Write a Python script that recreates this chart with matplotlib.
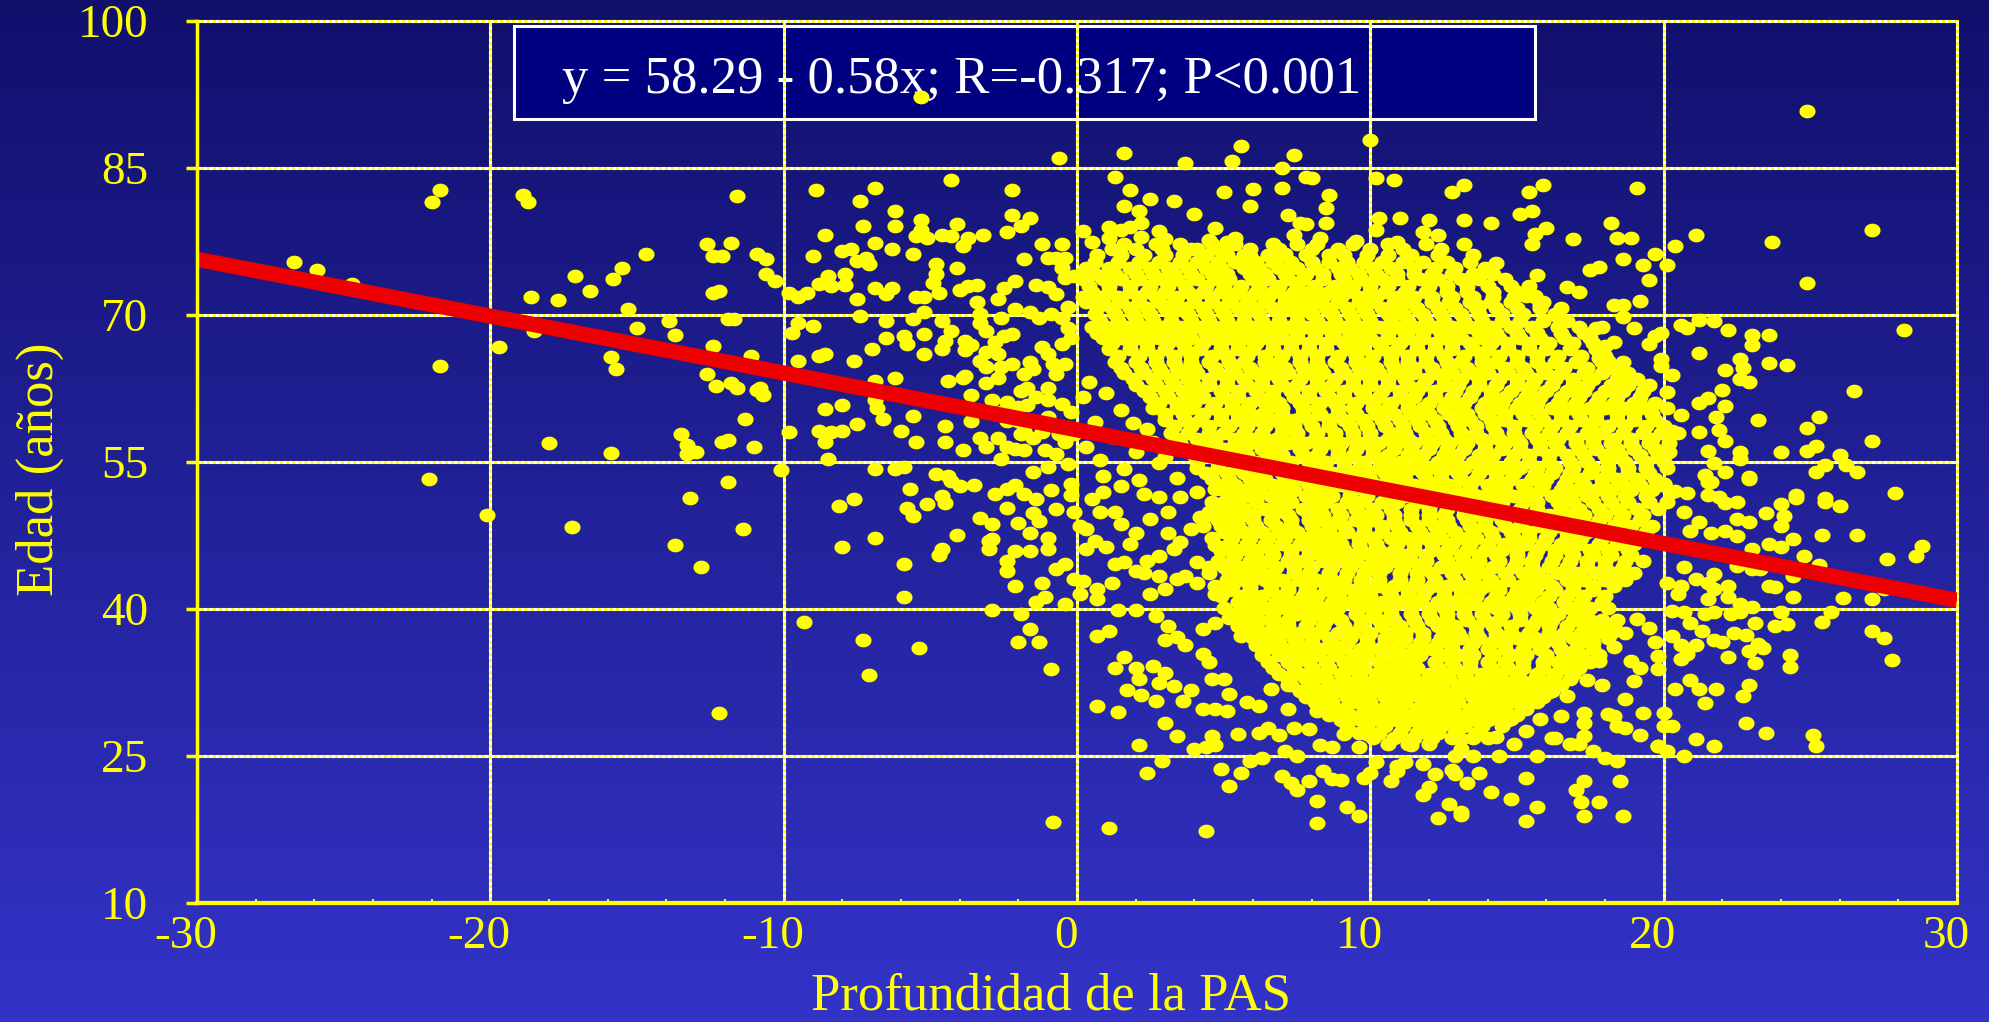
import numpy as np
import matplotlib
matplotlib.use('Agg')
import matplotlib.pyplot as plt
from matplotlib.path import Path
from matplotlib.patches import Rectangle
from matplotlib.ticker import MultipleLocator
from matplotlib.transforms import ScaledTranslation
from matplotlib.colors import LinearSegmentedColormap

plt.rcParams['font.family'] = ['Liberation Serif', 'DejaVu Serif']
plt.rcParams['axes.unicode_minus'] = False

# ---- ejes y recta ----
x_ticks = [-30, -20, -10, 0, 10, 20, 30]
y_ticks = [10, 25, 40, 55, 70, 85, 100]
intercepto = 58.29
pendiente = -0.58
texto_ecuacion = 'y = 58.29 - 0.58x; R=-0.317; P<0.001'
etiqueta_x = 'Profundidad de la PAS'
etiqueta_y = 'Edad (años)'

# ---- puntos, por zonas ----
puntos_izq = [
    (-26.7, 75.4), (-25.9, 74.6), (-24.7, 73.2), (-22.0, 81.5), (-21.7, 82.8), (-18.9, 82.3),
    (-18.7, 81.5), (-11.6, 82.1), (-17.1, 74.0), (-16.6, 72.5), (-15.8, 73.7), (-15.5, 74.8),
    (-14.7, 76.2), (-12.6, 77.2), (-11.8, 77.4), (-12.4, 76.0), (-12.1, 76.0), (-10.9, 76.2),
    (-12.4, 72.3), (-12.2, 72.5), (-18.6, 71.8), (-17.7, 71.5), (-15.3, 70.6), (-15.0, 68.7),
    (-13.9, 69.4), (-13.7, 68.0), (-11.9, 69.6), (-11.7, 69.6), (-18.5, 68.4), (-19.7, 66.7),
    (-15.9, 65.7), (-15.7, 64.5), (-12.4, 66.8), (-11.1, 65.8), (-12.6, 64.0), (-12.3, 62.8),
    (-11.8, 63.1), (-11.6, 62.6), (-10.9, 62.4), (-21.7, 64.8), (-11.3, 59.4), (-13.5, 57.9),
    (-13.3, 56.7), (-13.3, 55.8), (-13.0, 56.0), (-12.1, 57.0), (-11.9, 57.2), (-11.0, 56.5),
    (-18.0, 56.9), (-15.9, 55.9), (-22.1, 53.3), (-20.1, 49.6), (-17.2, 48.4), (-13.7, 46.5),
    (-12.8, 44.3), (-13.2, 51.3), (-11.9, 53.0), (-11.4, 48.2), (-12.2, 29.4), (-10.6, 75.7),
    (-10.6, 74.2), (-10.3, 73.5), (-10.8, 62.6), (-10.7, 61.8), (-10.1, 54.2),
]

puntos_medio = [
    (-9.3, 38.7), (-7.3, 36.8), (-5.4, 36.0), (-7.1, 33.3), (-5.9, 41.2), (-5.9, 44.6),
    (-8.0, 46.3), (-6.9, 47.3), (-8.1, 50.5), (-7.6, 51.2), (-5.7, 52.2), (-5.8, 50.3),
    (-5.6, 49.5), (-5.1, 50.7), (-4.6, 51.5), (-4.5, 50.8), (-4.3, 53.1), (-4.0, 52.6),
    (-3.5, 52.7), (-2.8, 51.7), (-3.3, 49.3), (-2.9, 48.7), (-4.1, 47.6), (-2.9, 47.1),
    (-3.0, 46.1), (-4.6, 46.1), (-4.7, 45.5), (-2.9, 39.9), (-2.0, 36.6), (-1.3, 36.6),
    (-1.6, 38.0), (-1.9, 39.5), (-0.9, 33.9), (-2.4, 50.3), (-2.0, 48.8), (-2.1, 52.7),
    (-2.4, 52.2), (-1.8, 51.7), (-1.4, 51.2), (-1.5, 49.8), (-1.3, 49.0), (-1.6, 47.8),
    (-1.0, 47.3), (-1.0, 46.1), (-2.1, 45.9), (-1.6, 45.9), (-3.0, 46.9), (-2.4, 44.9),
    (-2.4, 43.9), (-2.1, 42.4), (-1.2, 42.7), (-1.4, 40.7), (-1.1, 41.2), (-0.7, 44.1),
    (-0.4, 44.6), (-0.7, 50.2), (-0.9, 52.1), (-0.4, 40.5), (-0.1, 43.1), (-0.2, 51.6),
    (-0.1, 49.9), (-0.8, 18.3), (-5.3, 92.2),
    (-0.6, 86.0), (-4.3, 83.8), (-2.2, 82.8), (-8.9, 82.8), (-6.9, 83.0), (-7.4, 81.6),
    (-6.2, 80.6), (-6.2, 79.1), (-7.3, 79.1), (-8.6, 78.2), (-5.3, 79.7), (-5.3, 78.7),
    (-5.5, 78.1), (-5.1, 77.9), (-4.6, 78.2), (-4.3, 78.1), (-4.1, 79.3), (-3.7, 77.9),
    (-3.9, 77.0), (-3.2, 78.2), (-2.4, 78.5), (-2.2, 80.2), (-1.9, 79.1), (-1.6, 79.9),
    (-1.2, 77.2), (-0.5, 77.2), (-9.8, 72.3), (-9.5, 71.8), (-9.2, 72.3), (-9.0, 76.0),
    (-8.8, 73.2), (-8.5, 74.0), (-8.4, 73.0), (-8.0, 76.5), (-7.7, 76.7), (-7.9, 74.2),
    (-7.9, 73.1), (-7.5, 75.5), (-7.1, 75.2), (-7.2, 75.8), (-7.5, 71.6), (-7.4, 69.9),
    (-6.9, 77.4), (-6.9, 72.8), (-6.5, 72.1), (-6.3, 72.8), (-6.3, 76.7), (-5.6, 76.2),
    (-4.8, 75.2), (-4.8, 74.2), (-4.9, 73.3), (-4.7, 72.3), (-4.1, 74.8), (-4.0, 72.6),
    (-3.7, 73.0), (-3.4, 73.1), (-5.5, 71.8), (-5.2, 71.8), (-3.4, 71.3), (-3.3, 70.1),
    (-2.7, 71.6), (-2.5, 72.8), (-2.1, 73.5), (-1.8, 75.7), (-1.4, 73.1), (-1.0, 75.8),
    (-0.7, 75.8), (-0.4, 75.8), (-0.5, 74.8), (-1.0, 72.9), (-0.7, 72.1), (-0.4, 73.8),
    (-0.1, 74.0), (-0.3, 70.8), (-0.5, 69.7), (-0.9, 70.1), (-1.3, 69.7), (-1.6, 70.3),
    (-2.1, 70.6), (-2.6, 69.7), (-3.1, 68.4), (-3.3, 69.2), (-2.8, 67.2), (-2.5, 67.9),
    (-2.2, 68.1), (-3.1, 66.2), (-2.7, 66.0), (-3.6, 66.9), (-3.8, 67.4), (-3.8, 66.4),
    (-4.3, 68.4), (-4.6, 69.4), (-4.5, 67.4), (-4.6, 66.5), (-5.2, 70.3), (-5.2, 68.1),
    (-5.2, 66.0), (-5.9, 67.9), (-5.8, 67.0), (-5.6, 69.6), (-6.5, 69.4), (-6.5, 67.7),
    (-7.0, 66.5), (-7.6, 65.3), (-8.6, 66.0), (-8.8, 65.8), (-9.5, 65.3), (-9.7, 68.2),
    (-9.5, 69.2), (-9.0, 68.9), (-9.8, 58.1), (-8.6, 60.4), (-8.0, 60.8), (-6.9, 63.3),
    (-6.9, 61.3), (-6.8, 60.5), (-6.6, 59.4), (-7.5, 58.9), (-8.0, 58.2), (-8.8, 58.2),
    (-8.4, 58.1), (-8.6, 57.0), (-8.5, 55.3), (-6.9, 54.3), (-6.2, 54.3), (-5.9, 54.5),
    (-6.0, 58.2), (-5.6, 59.7), (-5.5, 57.0), (-4.5, 58.7), (-4.5, 57.0), (-3.9, 56.2),
    (-4.8, 53.8), (-4.4, 53.6), (-6.2, 63.6), (-4.4, 63.3), (-3.9, 63.6), (-3.6, 61.8),
    (-3.6, 59.2), (-3.3, 57.5), (-3.1, 56.5), (-2.7, 57.5), (-2.6, 55.3), (-2.4, 56.5),
    (-2.1, 56.3), (-1.9, 57.9), (-1.8, 56.2), (-1.5, 57.5), (-1.5, 54.0), (-1.2, 58.1),
    (-1.1, 56.2), (-1.0, 59.6), (-1.0, 54.5), (-0.7, 55.8), (-0.6, 57.9), (-0.4, 57.0),
    (-0.3, 54.8), (-0.2, 52.8), (-0.1, 57.9), (-0.2, 60.1), (-0.5, 60.9), (-0.7, 64.0),
    (-1.0, 62.6), (-1.0, 61.3), (-1.4, 61.6), (-1.7, 62.6), (-1.5, 64.5), (-1.6, 65.2),
    (-1.8, 64.0), (-1.2, 66.7), (-1.0, 66.0), (-0.8, 65.0), (-0.4, 65.0), (-0.5, 67.0),
    (-0.2, 67.7), (-0.3, 68.7), (-2.2, 65.0), (-2.6, 64.7), (-2.7, 63.6), (-3.1, 63.1),
    (-3.1, 64.7), (-3.3, 65.3), (-3.8, 63.8), (-2.9, 61.3), (-2.6, 60.1), (-2.4, 61.1),
    (-2.0, 60.6), (-1.9, 62.3), (-1.7, 60.8), (-2.0, 59.2), (-1.8, 58.2), (-2.4, 59.2),
]

puntos_arriba = [
    (1.6, 86.5), (3.7, 85.5), (5.3, 85.7), (5.6, 87.2), (7.4, 86.3), (7.0, 85.0), (7.8, 84.1),
    (1.3, 84.1), (1.8, 82.8), (1.6, 81.1), (2.1, 80.6), (3.3, 81.6), (4.0, 80.3), (5.0, 82.6),
    (5.9, 81.1), (7.0, 83.0), (7.2, 80.2), (4.7, 78.9), (1.1, 79.0), (1.1, 77.9), (1.5, 78.7),
    (1.8, 79.0), (2.2, 79.4), (2.2, 78.0), (2.8, 78.6), (3.0, 77.8), (4.1, 76.7), (4.5, 77.7),
    (5.1, 77.5), (5.4, 77.9), (5.9, 76.0), (7.1, 76.2), (7.4, 78.2), (7.6, 79.4), (0.2, 78.6),
    (0.5, 77.5), (10.0, 87.9), (8.0, 84.0), (8.6, 82.3), (8.5, 80.9), (8.5, 79.4), (7.8, 79.3),
    (10.2, 84.0), (10.8, 83.8), (12.8, 82.6), (13.2, 83.3), (15.4, 82.6), (15.9, 83.3),
    (19.1, 83.0), (10.3, 79.9), (11.0, 79.9), (10.2, 78.7), (12.0, 79.7), (11.8, 78.5),
    (12.3, 78.2), (13.2, 79.7), (14.1, 79.4), (15.1, 80.3), (15.5, 80.6), (15.6, 78.3),
    (16.0, 78.9), (16.9, 77.8), (18.2, 79.4), (18.4, 77.9), (18.9, 77.9), (18.6, 75.7),
    (19.3, 75.1), (19.7, 76.2), (19.5, 73.6), (19.2, 71.4), (10.9, 77.5), (9.5, 77.6),
    (8.3, 77.9), (15.5, 77.2), (14.3, 75.3), (15.7, 74.1), (15.4, 73.0), (15.3, 71.9),
    (15.6, 71.9), (16.7, 72.9), (17.1, 72.4), (17.5, 74.6), (17.8, 74.9), (18.3, 71.0),
    (18.6, 71.0), (18.6, 69.8), (19.0, 68.7), (19.7, 67.9), (19.5, 67.0), (19.9, 68.2),
    (19.9, 65.5), (19.9, 64.8), (17.7, 68.7), (17.9, 68.8), (18.3, 67.3), (18.0, 66.8),
    (17.8, 65.6), (18.1, 65.3), (18.4, 64.4), (13.7, 70.9), (16.3, 70.0), (15.8, 71.0),
    (6.0, 82.9), (2.5, 81.8), (0.3, 56.5), (0.8, 55.2), (1.2, 57.6), (1.6, 54.3), (2.0, 56.0),
    (2.4, 58.4), (2.8, 54.9), (0.6, 59.1), (1.5, 60.3), (1.0, 62.0), (0.4, 63.2), (2.1, 53.2),
    (0.9, 53.6), (2.6, 57.0), (3.0, 55.5), (1.9, 59.0), (3.4, 53.4), (0.2, 61.6),
]

puntos_abajo = [
    (1.1, 17.7), (4.4, 17.4), (8.2, 18.2), (8.2, 20.4), (9.2, 19.8), (9.6, 18.9), (7.5, 21.5),
    (7.3, 22.3), (7.0, 23.0), (7.9, 22.5), (8.4, 23.5), (8.7, 22.7), (9.0, 22.6), (5.2, 21.9),
    (4.9, 23.7), (5.6, 23.3), (2.4, 23.3), (2.9, 24.5), (9.8, 22.8), (10.0, 23.3), (10.7, 22.5),
    (10.9, 23.5), (11.2, 24.4), (11.8, 21.0), (12.0, 21.8), (12.2, 23.2), (12.7, 20.1),
    (12.3, 18.7), (13.1, 19.3), (12.9, 23.2), (11.8, 24.2), (5.9, 24.5), (6.3, 24.8),
    (7.1, 25.5), (7.5, 25.0), (0.7, 30.1), (1.4, 29.5), (1.7, 31.7), (1.3, 34.0), (1.6, 35.1),
    (2.0, 34.0), (2.1, 32.9), (2.2, 31.2), (2.6, 34.2), (2.7, 30.6), (2.8, 32.5), (3.0, 33.5),
    (3.3, 32.1), (3.0, 28.4), (3.4, 27.0), (2.1, 26.1), (3.9, 31.7), (3.6, 30.6), (4.3, 35.4),
    (4.5, 34.6), (4.6, 32.9), (5.0, 32.9), (5.2, 31.3), (4.3, 29.8), (4.7, 29.8), (5.1, 29.6),
    (5.5, 27.2), (4.6, 27.0), (4.7, 26.1), (4.0, 25.7), (4.4, 25.9), (5.8, 30.5), (6.2, 30.1),
    (6.6, 31.8), (6.2, 27.4), (6.5, 27.9), (6.9, 27.1), (7.4, 27.9), (7.2, 29.8), (7.9, 27.8),
    (8.3, 26.1), (8.7, 25.9), (9.1, 27.2), (9.6, 25.9), (9.9, 27.2), (8.2, 29.6), (8.7, 29.5),
    (9.1, 28.8), (9.5, 30.6), (7.9, 31.2), (8.3, 31.2), (9.0, 31.8), (10.4, 28.8), (11.2, 28.8),
    (11.7, 27.8), (12.0, 27.1), (12.3, 27.9), (11.4, 26.1), (12.9, 28.1), (13.1, 26.7),
    (10.2, 24.4), (10.9, 24.0), (3.0, 36.8), (3.7, 36.3), (3.4, 37.1), (3.1, 38.3), (2.7, 39.3),
    (0.7, 37.3), (1.1, 37.8), (1.4, 39.9), (2.0, 39.9), (4.3, 38.0), (4.7, 38.6), (5.2, 39.1),
    (5.8, 38.6), (5.6, 37.3), (6.1, 36.3), (6.6, 37.3), (6.8, 36.3), (7.2, 35.6), (7.7, 34.9),
    (7.4, 33.5), (7.2, 32.2), (8.0, 33.5), (8.4, 33.2), (8.8, 31.8), (9.5, 32.5), (9.9, 31.2),
    (10.1, 29.8), (10.6, 32.9), (10.9, 31.5), (11.2, 33.2), (11.5, 31.2), (12.0, 31.5),
    (12.3, 32.9), (12.6, 29.5), (12.9, 31.2), (12.1, 29.5), (11.6, 29.8), (10.9, 30.1),
    (13.7, 23.3), (13.3, 22.3), (14.1, 21.3), (13.1, 19.0), (14.8, 20.6), (15.3, 22.8),
    (15.7, 19.8), (15.3, 18.4), (17.3, 22.5), (17.0, 21.5), (17.2, 20.3), (17.8, 20.3),
    (17.3, 18.9), (18.6, 18.9), (18.5, 22.5), (18.4, 24.5), (18.0, 24.8), (17.6, 25.5),
    (15.7, 25.0), (14.4, 25.0), (13.5, 25.0), (12.9, 25.0), (12.8, 23.6), (13.1, 25.7),
    (14.9, 26.2), (14.0, 26.8), (14.3, 26.9), (16.2, 26.8), (16.8, 26.2), (17.3, 27.0),
    (17.1, 26.2), (19.2, 27.1), (19.8, 26.0), (18.4, 28.1), (18.7, 27.9), (18.1, 29.3),
    (18.3, 29.1), (19.3, 29.4), (17.3, 29.4), (17.3, 28.4), (16.5, 29.1), (16.3, 26.8),
    (15.8, 28.8), (15.3, 27.6), (14.8, 28.8), (14.0, 28.8), (13.1, 28.3), (13.5, 26.8),
    (18.7, 30.8), (17.9, 32.2), (17.4, 32.8), (19.0, 32.7), (19.2, 34.0), (19.8, 33.9),
    (18.9, 34.7), (18.3, 36.1), (16.7, 31.1), (16.1, 31.5), (15.4, 30.8), (14.5, 31.5),
    (13.6, 30.8), (13.2, 32.5), (14.1, 32.8), (14.9, 32.5), (15.7, 33.2), (16.5, 34.2),
    (17.1, 35.2), (17.8, 34.7), (17.5, 37.3), (18.0, 38.3), (18.7, 37.6), (19.5, 38.1),
    (19.7, 36.6), (19.8, 35.2), (19.1, 39.0),
    (0.1, 48.5), (0.3, 48.2), (0.1, 41.5), (0.2, 42.9), (0.7, 42.0), (0.7, 41.0), (1.2, 42.7),
    (0.3, 46.1), (0.6, 46.9), (1.0, 46.3), (1.3, 44.6), (1.6, 44.8), (2.0, 43.9), (2.3, 43.7),
    (2.8, 43.4), (2.5, 41.5), (3.0, 42.0), (3.4, 43.1), (3.7, 43.4), (4.1, 42.7), (4.7, 41.5),
    (5.3, 42.7), (5.7, 41.2), (4.7, 46.5), (4.9, 45.9), (4.5, 49.9), (4.2, 49.4), (3.9, 48.2),
    (3.5, 46.8), (3.3, 46.1), (3.1, 47.8), (2.8, 45.4), (2.4, 44.9), (1.8, 46.6), (1.5, 48.7),
    (1.3, 49.9), (0.8, 49.9), (0.5, 51.2), (0.9, 51.9), (1.5, 52.6), (2.3, 51.7), (2.8, 51.4),
    (3.1, 49.9), (2.5, 49.2), (2.0, 47.8), (3.5, 51.4), (4.1, 51.9), (4.7, 52.2), (5.2, 51.2),
    (5.6, 49.5), (5.2, 48.2), (5.7, 46.1), (6.1, 45.1), (6.1, 48.2), (6.1, 51.2), (4.1, 44.8),
    (4.5, 44.3), (5.1, 44.4), (5.5, 43.7), (6.0, 43.1),
]

puntos_der = [
    (24.9, 90.8), (21.1, 78.2), (23.7, 77.5), (27.1, 78.7), (24.9, 73.3), (20.4, 77.0),
    (20.1, 75.1), (20.6, 69.0), (20.8, 68.7), (21.2, 69.5), (21.7, 69.4), (22.2, 68.5),
    (23.0, 68.0), (23.0, 66.9), (23.6, 68.0), (28.2, 68.5), (21.2, 66.1), (22.6, 65.5),
    (22.7, 64.6), (23.6, 65.1), (24.2, 64.9), (22.1, 64.4), (20.3, 63.9), (22.6, 63.5),
    (22.9, 63.2), (22.0, 62.4), (26.5, 62.2), (21.5, 61.5), (21.2, 61.0), (22.1, 60.7),
    (20.6, 59.8), (21.8, 59.6), (23.2, 59.3), (25.3, 59.6), (24.9, 58.5), (21.2, 58.1),
    (21.9, 58.3), (22.1, 57.1), (27.1, 57.1), (25.2, 56.6), (24.9, 56.1), (21.5, 56.1),
    (22.6, 56.0), (22.6, 55.3), (24.0, 56.0), (26.0, 55.7), (25.5, 54.7), (26.2, 54.7),
    (26.6, 54.0), (25.2, 54.0), (21.7, 54.9), (22.1, 54.0), (22.9, 53.5), (21.4, 53.7),
    (21.5, 53.0), (27.9, 51.8), (24.5, 51.6), (25.5, 51.3), (20.1, 62.1), (20.3, 58.2),
    (20.5, 58.0), (20.2, 56.0), (20.4, 52.0), (20.0, 52.8),
    (24.5, 51.3), (25.5, 50.9), (26.0, 50.5), (24.0, 50.7), (23.5, 49.8), (24.1, 49.5),
    (24.0, 48.5), (25.4, 47.6), (26.6, 47.6), (24.4, 47.1), (28.8, 46.4), (28.6, 45.4),
    (27.6, 45.1), (24.8, 45.4), (25.3, 44.5), (24.0, 46.3), (23.6, 46.6), (23.0, 46.1),
    (22.5, 50.9), (22.1, 50.8), (21.9, 51.4), (21.5, 51.6), (21.6, 53.0), (22.9, 53.3),
    (20.8, 51.8), (20.3, 51.9), (20.0, 52.8), (20.7, 49.9), (21.2, 48.9), (20.9, 48.0),
    (21.6, 47.8), (22.1, 48.0), (22.5, 47.5), (22.5, 49.2), (22.9, 48.9), (22.5, 44.4),
    (23.0, 44.1), (23.3, 44.1), (24.4, 43.4), (23.6, 42.4), (23.8, 42.2), (24.4, 41.2),
    (26.1, 41.1), (27.1, 41.0), (27.5, 42.0), (24.0, 39.7), (24.2, 38.5), (23.8, 38.3),
    (25.7, 39.7), (25.4, 38.7), (27.1, 37.8), (27.5, 37.0), (27.8, 34.8), (24.3, 35.3),
    (24.3, 34.1), (23.1, 38.6), (22.8, 37.4), (23.2, 36.4), (23.4, 36.0), (22.9, 35.7),
    (23.1, 34.5), (22.2, 35.1), (22.4, 37.6), (21.7, 36.8), (22.0, 36.6), (21.3, 37.8),
    (20.9, 38.6), (20.3, 39.8), (20.7, 39.7), (21.4, 39.5), (21.7, 39.7), (22.3, 39.5),
    (22.6, 39.7), (23.0, 40.2), (22.6, 40.5), (21.5, 41.0), (21.7, 42.0), (22.2, 41.2),
    (21.5, 42.7), (22.2, 42.4), (21.7, 43.6), (21.1, 43.1), (20.7, 44.3), (20.6, 42.4),
    (20.5, 41.5), (20.1, 42.7), (20.3, 37.3), (20.6, 36.3), (20.8, 35.4), (21.1, 36.3),
    (20.6, 34.9), (20.9, 32.8), (21.2, 31.8), (20.4, 31.8), (21.8, 31.8), (21.4, 30.4),
    (22.9, 32.3), (22.7, 31.1), (22.8, 28.4), (23.5, 27.4), (25.1, 27.1), (25.2, 26.0),
    (21.1, 26.7), (21.7, 26.0), (20.7, 25.0), (20.0, 29.4), (20.3, 28.1), (20.0, 28.1),
    (19.8, 26.0), (20.1, 25.5),
]

# nucleo denso: filas de edad con las PAS de cada fila
nucleo_edad = [77.3, 76.1, 74.8, 73.7, 72.4, 71.3, 70.1, 68.8, 67.7, 66.5, 65.2, 64.1, 62.9, 61.6,
               60.5, 59.3, 58.0, 56.9, 55.7, 54.4, 53.3, 52.1, 50.9, 49.6, 48.5, 47.3, 46.0, 44.9,
               43.7, 42.4, 41.3, 40.1, 38.9, 37.6, 36.5, 35.3, 34.0, 32.9, 31.6, 30.5, 29.2, 28.1]
nucleo_pas = [
    [1.6, 2.7, 3.5, 4.6, 5.4, 6.7, 7.5, 8.2, 9.4, 10.6, 11.9, 13.2],
    [0.7, 1.5, 2.3, 3.0, 3.6, 4.4, 5.1, 5.7, 6.5, 7.0, 7.8, 8.6, 9.1, 9.9, 10.6, 11.4, 12.3, 13.5],
    [0.3, 1.1, 1.8, 2.5, 3.1, 3.8, 4.4, 4.9, 5.7, 6.2, 6.9, 7.5, 8.1, 8.9, 9.3, 10.1, 10.7, 11.5, 12.2, 12.9, 13.9],
    [0.2, 0.9, 1.5, 2.1, 2.9, 3.4, 4.1, 4.7, 5.2, 6.0, 6.5, 7.2, 7.7, 8.4, 9.1, 9.7, 10.4, 10.9, 11.7, 12.3, 13.1, 13.7, 14.6],
    [0.5, 1.1, 1.8, 2.4, 3.0, 3.8, 4.3, 4.9, 5.5, 6.1, 6.7, 7.4, 7.9, 8.6, 9.2, 10.0, 10.5, 11.2, 11.9, 12.6, 13.3, 14.2, 15.0],
    [0.3, 0.9, 1.5, 2.1, 2.8, 3.3, 4.0, 4.6, 5.2, 5.8, 6.4, 7.1, 7.6, 8.2, 8.9, 9.6, 10.1, 10.8, 11.4, 12.1, 12.7, 13.4, 14.1, 14.8, 15.9],
    [0.6, 1.3, 1.9, 2.5, 3.2, 3.8, 4.4, 5.0, 5.7, 6.2, 6.9, 7.5, 8.0, 8.7, 9.3, 9.9, 10.6, 11.1, 11.8, 12.4, 13.1, 13.7, 14.5, 15.2, 16.3],
    [0.5, 1.0, 1.7, 2.3, 2.9, 3.5, 4.2, 4.7, 5.3, 6.0, 6.5, 7.2, 7.8, 8.4, 9.1, 9.6, 10.3, 10.9, 11.5, 12.2, 12.8, 13.4, 14.1, 14.8, 15.5, 16.4, 17.1],
    [0.9, 1.5, 2.1, 2.8, 3.3, 3.9, 4.6, 5.2, 5.8, 6.3, 7.0, 7.5, 8.1, 8.8, 9.4, 10.0, 10.6, 11.3, 11.8, 12.5, 13.1, 13.8, 14.4, 15.1, 15.8, 16.6, 17.5],
    [1.1, 1.8, 2.4, 3.0, 3.7, 4.2, 4.9, 5.5, 6.0, 6.7, 7.3, 7.9, 8.5, 9.2, 9.7, 10.4, 10.9, 11.6, 12.2, 12.8, 13.5, 14.0, 14.7, 15.4, 16.0, 16.8, 17.7],
    [1.3, 2.0, 2.7, 3.3, 3.9, 4.5, 5.2, 5.7, 6.4, 6.9, 7.6, 8.2, 8.8, 9.5, 10.0, 10.7, 11.3, 11.9, 12.6, 13.1, 13.8, 14.3, 15.0, 15.7, 16.3, 17.0, 17.9, 18.6],
    [1.6, 2.3, 2.9, 3.6, 4.1, 4.8, 5.4, 6.1, 6.6, 7.2, 7.9, 8.4, 9.1, 9.8, 10.3, 11.0, 11.5, 12.2, 12.8, 13.5, 14.0, 14.7, 15.3, 16.0, 16.5, 17.3, 17.9, 18.8],
    [2.0, 2.7, 3.3, 4.0, 4.5, 5.1, 5.8, 6.3, 7.0, 7.5, 8.2, 8.7, 9.4, 10.0, 10.6, 11.3, 11.8, 12.5, 13.0, 13.7, 14.3, 15.0, 15.5, 16.2, 16.9, 17.4, 18.2, 18.8, 19.5],
    [2.5, 3.1, 3.8, 4.3, 5.0, 5.5, 6.2, 6.7, 7.4, 7.9, 8.6, 9.1, 9.8, 10.3, 11.0, 11.5, 12.2, 12.8, 13.4, 14.1, 14.6, 15.3, 15.8, 16.5, 17.1, 17.8, 18.4, 19.2],
    [2.6, 3.4, 3.9, 4.6, 5.3, 5.8, 6.5, 7.0, 7.7, 8.2, 8.9, 9.4, 10.1, 10.6, 11.3, 11.8, 12.5, 13.1, 13.8, 14.3, 15.0, 15.5, 16.2, 16.8, 17.5, 18.0, 18.7, 19.4, 20.1],
    [3.0, 3.7, 4.2, 4.9, 5.5, 6.2, 6.7, 7.4, 7.9, 8.6, 9.1, 9.8, 10.4, 11.0, 11.6, 12.2, 12.9, 13.4, 14.1, 14.6, 15.3, 15.9, 16.5, 17.2, 17.7, 18.4, 19.0, 19.7],
    [3.2, 3.8, 4.5, 5.0, 5.7, 6.3, 7.0, 7.5, 8.2, 8.8, 9.4, 10.0, 10.7, 11.2, 11.9, 12.4, 13.1, 13.6, 14.3, 14.9, 15.5, 16.1, 16.7, 17.4, 17.9, 18.6, 19.3, 19.9],
    [3.5, 4.2, 4.7, 5.4, 5.9, 6.6, 7.2, 7.8, 8.5, 9.0, 9.7, 10.3, 10.9, 11.5, 12.1, 12.7, 13.3, 13.9, 14.6, 15.1, 15.8, 16.3, 17.0, 17.6, 18.2, 18.9, 19.5, 20.2],
    [4.0, 4.6, 5.3, 5.8, 6.5, 7.0, 7.7, 8.2, 8.9, 9.4, 10.1, 10.6, 11.3, 11.8, 12.5, 13.0, 13.7, 14.2, 14.9, 15.4, 16.1, 16.7, 17.3, 18.0, 18.5, 19.2, 19.8],
    [4.1, 4.8, 5.5, 6.0, 6.7, 7.2, 7.9, 8.4, 9.1, 9.6, 10.3, 10.8, 11.5, 12.0, 12.7, 13.2, 13.9, 14.5, 15.1, 15.7, 16.3, 16.9, 17.6, 18.1, 18.8, 19.4, 20.1],
    [4.6, 5.2, 5.9, 6.4, 7.1, 7.6, 8.3, 8.8, 9.5, 10.0, 10.7, 11.2, 11.9, 12.4, 13.1, 13.6, 14.3, 14.8, 15.5, 16.0, 16.7, 17.2, 17.9, 18.4, 19.1, 19.7],
    [5.0, 5.7, 6.2, 6.9, 7.4, 8.1, 8.6, 9.3, 9.8, 10.5, 11.0, 11.7, 12.2, 12.9, 13.4, 14.1, 14.6, 15.3, 15.8, 16.5, 17.0, 17.7, 18.2, 18.9, 19.6],
    [5.5, 6.1, 6.8, 7.3, 8.0, 8.5, 9.2, 9.7, 10.4, 10.9, 11.6, 12.1, 12.8, 13.3, 14.0, 14.5, 15.2, 15.7, 16.4, 16.9, 17.6, 18.2, 18.8, 19.5, 20.1],
    [6.0, 6.7, 7.2, 7.9, 8.4, 9.0, 9.7, 10.2, 10.8, 11.4, 12.0, 12.5, 13.2, 13.7, 14.4, 14.9, 15.6, 16.1, 16.8, 17.3, 18.0, 18.6, 19.3],
    [6.1, 6.8, 7.3, 8.0, 8.6, 9.1, 9.8, 10.4, 10.9, 11.6, 12.2, 12.7, 13.4, 13.9, 14.6, 15.1, 15.8, 16.4, 17.0, 17.6, 18.3, 18.9, 19.6],
    [6.5, 7.1, 7.8, 8.3, 8.9, 9.6, 10.1, 10.7, 11.3, 11.9, 12.4, 13.1, 13.6, 14.2, 14.9, 15.4, 16.0, 16.7, 17.2, 17.9, 18.5, 19.2],
    [6.6, 7.3, 7.9, 8.4, 9.1, 9.7, 10.3, 10.8, 11.5, 12.1, 12.6, 13.3, 13.9, 14.5, 15.0, 15.7, 16.3, 16.8, 17.5, 18.1, 18.8],
    [6.5, 7.2, 7.7, 8.4, 9.0, 9.5, 10.2, 10.8, 11.4, 11.9, 12.6, 13.2, 13.7, 14.4, 15.0, 15.5, 16.2, 16.8, 17.4, 18.0, 18.7, 19.3],
    [6.7, 7.4, 7.9, 8.6, 9.2, 9.8, 10.3, 11.0, 11.6, 12.1, 12.8, 13.4, 13.9, 14.6, 15.2, 15.7, 16.4, 17.0, 17.7, 18.3, 19.0],
    [6.6, 7.2, 7.9, 8.5, 9.0, 9.7, 10.3, 10.8, 11.5, 12.1, 12.6, 13.3, 13.9, 14.4, 15.1, 15.7, 16.2, 16.9, 17.6, 18.3],
    [7.0, 7.7, 8.2, 8.9, 9.5, 10.0, 10.7, 11.3, 11.8, 12.5, 13.1, 13.6, 14.3, 14.9, 15.4, 16.1, 16.7, 17.3, 18.0],
    [7.1, 7.8, 8.4, 8.9, 9.6, 10.2, 10.7, 11.4, 12.0, 12.5, 13.2, 13.8, 14.3, 15.0, 15.6, 16.1, 16.8, 17.5, 18.1],
    [7.2, 7.9, 8.5, 9.0, 9.7, 10.3, 10.8, 11.5, 12.1, 12.6, 13.3, 13.9, 14.4, 15.1, 15.7, 16.2, 16.9, 17.5],
    [7.6, 8.2, 8.9, 9.4, 10.0, 10.7, 11.2, 11.8, 12.5, 13.0, 13.6, 14.3, 14.8, 15.4, 16.1, 16.6, 17.2],
    [8.0, 8.7, 9.2, 9.9, 10.5, 11.0, 11.7, 12.3, 12.8, 13.5, 14.1, 14.6, 15.3, 15.9, 16.4, 17.1],
    [8.1, 8.8, 9.4, 9.9, 10.6, 11.2, 11.7, 12.4, 13.0, 13.5, 14.2, 14.8, 15.3, 16.0, 16.6],
    [8.6, 9.3, 9.8, 10.5, 11.1, 11.6, 12.3, 12.9, 13.4, 14.1, 14.7, 15.2, 15.9],
    [9.1, 9.7, 10.2, 10.9, 11.5, 12.0, 12.7, 13.3, 13.8, 14.5, 15.1, 15.6],
    [9.6, 10.2, 10.7, 11.4, 12.0, 12.5, 13.2, 13.8, 14.3, 15.0],
    [10.0, 10.7, 11.2, 11.9, 12.5, 13.0, 13.7, 14.4],
    [10.6, 11.2, 11.7, 12.4, 13.0, 13.7],
    [11.1, 11.8, 12.4, 13.2],
]

# filas intermedias de la zona mas cargada
denso_edad = [62.3, 61.0, 59.9, 58.7, 57.4, 56.3, 55.0, 53.9, 52.7, 51.5,
              50.2, 49.1, 47.9, 46.6, 45.5, 44.3, 43.0, 41.9, 40.7, 39.5]
denso_pas = [
    [7.3, 7.9, 8.5, 9.1, 9.7, 10.4, 11.0, 11.6, 12.2, 12.9, 13.5],
    [6.9, 7.6, 8.3, 8.8, 9.5, 10.1, 10.7, 11.3, 12.0, 12.6, 13.2, 13.9, 14.5],
    [6.3, 7.0, 7.7, 8.3, 8.9, 9.5, 10.2, 10.8, 11.4, 12.0, 12.7, 13.3, 13.9, 14.6, 15.2],
    [7.4, 8.0, 8.6, 9.3, 9.9, 10.5, 11.1, 11.7, 12.3, 13.0, 13.6, 14.2, 14.9, 15.6],
    [6.8, 7.5, 8.1, 8.8, 9.4, 10.0, 10.6, 11.3, 11.9, 12.5, 13.1, 13.8, 14.4, 15.0, 15.7, 16.4],
    [7.6, 8.3, 8.9, 9.5, 10.1, 10.8, 11.4, 12.0, 12.6, 13.2, 13.9, 14.5, 15.1, 15.8],
    [7.9, 8.5, 9.1, 9.8, 10.4, 11.0, 11.6, 12.3, 12.9, 13.5, 14.1, 14.8, 15.4, 16.1, 16.8],
    [8.1, 8.7, 9.3, 9.9, 10.5, 11.2, 11.8, 12.4, 13.0, 13.7, 14.3, 14.9, 15.6, 16.2],
    [8.4, 9.0, 9.6, 10.3, 10.9, 11.5, 12.1, 12.7, 13.4, 14.0, 14.6, 15.2, 15.9, 16.6, 17.3],
    [8.7, 9.3, 9.9, 10.6, 11.2, 11.8, 12.4, 13.1, 13.7, 14.3, 14.9, 15.5, 16.2],
    [8.3, 8.9, 9.5, 10.1, 10.7, 11.4, 12.0, 12.6, 13.2, 13.8, 14.5, 15.1, 15.7, 16.5],
    [8.9, 9.5, 10.1, 10.8, 11.4, 12.0, 12.6, 13.3, 13.9, 14.5, 15.2, 15.9],
    [8.6, 9.2, 9.8, 10.4, 11.0, 11.7, 12.3, 12.9, 13.5, 14.1, 14.8, 15.4, 16.1],
    [9.0, 9.6, 10.2, 10.9, 11.5, 12.1, 12.8, 13.4, 14.0, 14.6, 15.3, 15.9],
    [8.8, 9.4, 10.0, 10.6, 11.2, 11.9, 12.5, 13.1, 13.7, 14.3, 15.0, 15.6, 16.3],
    [9.3, 9.9, 10.5, 11.1, 11.8, 12.4, 13.0, 13.6, 14.2, 14.9, 15.5],
    [9.1, 9.7, 10.3, 11.0, 11.6, 12.2, 12.9, 13.5, 14.1, 14.7, 15.4],
    [9.4, 10.0, 10.6, 11.3, 11.9, 12.5, 13.1, 13.7, 14.4, 15.0],
    [9.8, 10.4, 11.0, 11.6, 12.3, 12.9, 13.5, 14.1, 14.7],
    [10.1, 10.7, 11.4, 12.0, 12.6, 13.2, 13.8, 14.5],
]

# filas de relleno entre las anteriores (bordes del nucleo)
relleno_edad = [76.7, 75.4, 74.2, 73.0, 71.8, 70.7, 69.4, 68.2, 67.1, 65.8, 64.6, 63.5,
                62.3, 61.0, 59.9, 58.7, 57.4, 56.3, 55.0, 53.9, 52.7, 51.5, 50.2, 49.1,
                47.9, 46.6, 45.5, 44.3, 43.0, 41.9, 40.7, 39.5, 38.3, 37.0, 35.9, 34.6,
                33.4, 32.2, 31.0, 29.8, 28.7]
relleno_pas = [
    [1.2, 2.0, 2.9, 3.9, 4.8, 5.9, 6.9, 8.0, 8.9, 10.0, 11.1, 12.4],
    [0.6, 1.4, 2.1, 2.8, 3.5, 4.1, 4.8, 5.4, 6.1, 6.7, 7.3, 8.0, 8.6, 9.2, 9.8, 10.4, 11.1, 11.8, 12.6, 13.4],
    [0.6, 1.3, 2.0, 2.6, 3.3, 3.9, 4.6, 5.1, 5.9, 6.4, 7.1, 7.8, 8.4, 9.0, 9.6, 10.2, 10.9, 11.5, 12.1, 12.8, 13.5, 14.2],
    [0.4, 1.1, 1.8, 2.5, 3.1, 3.7, 4.4, 5.0, 5.6, 6.2, 6.9, 7.5, 8.1, 8.8, 9.4, 10.0, 10.6, 11.3, 12.0, 12.6, 13.3, 14.0, 14.8],
    [0.2, 0.8, 1.4, 2.1, 2.7, 3.4, 4.0, 4.6, 5.3, 5.9, 6.5, 7.1, 7.7, 8.4, 9.0, 9.6, 10.2, 10.9, 11.5, 12.1, 12.8, 13.5, 14.2, 14.9, 15.6],
    [0.7, 1.2, 1.8, 2.4, 3.0, 3.6, 4.3, 4.9, 5.5, 6.1, 6.7, 7.3, 7.9, 8.5, 9.2, 9.8, 10.4, 11.0, 11.6, 12.3, 12.9, 13.6, 14.3, 15.0, 15.8, 16.5],
    [0.8, 1.4, 2.0, 2.6, 3.2, 3.9, 4.5, 5.1, 5.7, 6.3, 6.9, 7.5, 8.2, 8.8, 9.4, 10.0, 10.7, 11.3, 11.9, 12.5, 13.2, 13.8, 14.5, 15.1, 15.9, 16.7],
    [0.7, 1.3, 1.9, 2.6, 3.2, 3.8, 4.4, 5.0, 5.6, 6.2, 6.8, 7.5, 8.1, 8.7, 9.3, 9.9, 10.6, 11.2, 11.8, 12.4, 13.0, 13.7, 14.3, 15.0, 15.7, 16.5, 17.3],
    [1.2, 1.8, 2.4, 3.1, 3.6, 4.3, 4.9, 5.5, 6.1, 6.7, 7.3, 7.9, 8.5, 9.1, 9.7, 10.3, 11.0, 11.6, 12.2, 12.8, 13.4, 14.1, 14.7, 15.4, 16.1, 16.9, 17.6],
    [1.4, 2.1, 2.7, 3.3, 3.9, 4.6, 5.1, 5.8, 6.4, 7.0, 7.6, 8.2, 8.9, 9.5, 10.1, 10.7, 11.3, 11.9, 12.5, 13.2, 13.8, 14.4, 15.0, 15.7, 16.4, 17.2, 18.0],
    [1.5, 2.2, 2.8, 3.4, 4.0, 4.7, 5.3, 5.9, 6.5, 7.1, 7.7, 8.3, 9.0, 9.6, 10.2, 10.8, 11.5, 12.1, 12.7, 13.3, 13.9, 14.6, 15.2, 15.9, 16.6, 17.4, 18.2],
    [1.9, 2.6, 3.2, 3.8, 4.5, 5.1, 5.7, 6.3, 6.9, 7.6, 8.2, 8.8, 9.4, 10.0, 10.6, 11.2, 11.9, 12.5, 13.1, 13.7, 14.4, 15.0, 15.6, 16.3, 16.9, 17.6, 18.4, 19.1],
    [2.3, 3.0, 3.6, 4.2, 4.9, 5.5, 6.1, 6.7, 14.1, 14.8, 15.4, 16.0, 16.7, 17.3, 18.0, 18.6, 19.3],
    [2.8, 3.4, 4.0, 4.7, 5.3, 5.9, 6.4, 15.1, 15.7, 16.4, 17.0, 17.7, 18.3, 19.0, 19.7],
    [3.0, 3.6, 4.3, 4.9, 5.5, 5.9, 15.8, 16.5, 17.1, 17.7, 18.4, 19.0, 19.6],
    [3.3, 3.9, 4.5, 5.2, 5.8, 6.4, 7.0, 16.2, 16.8, 17.5, 18.1, 18.7, 19.4, 20.0],
    [3.4, 4.1, 4.7, 5.4, 6.0, 6.4, 17.0, 17.6, 18.3, 18.9, 19.6],
    [3.7, 4.4, 5.0, 5.6, 6.3, 6.9, 16.4, 17.1, 17.7, 18.4, 19.0, 19.7],
    [4.1, 4.8, 5.4, 6.1, 6.7, 7.3, 17.4, 18.1, 18.7, 19.4, 20.0],
    [4.4, 5.1, 5.7, 6.3, 7.0, 7.6, 16.8, 17.5, 18.1, 18.8, 19.5],
    [4.8, 5.4, 6.1, 6.7, 7.3, 7.9, 17.9, 18.6, 19.2, 19.9],
    [5.3, 5.9, 6.6, 7.2, 7.8, 8.3, 16.8, 17.4, 18.1, 18.7, 19.4],
    [5.7, 6.4, 7.0, 7.7, 17.1, 17.8, 18.4, 19.1, 19.8],
    [6.0, 6.6, 7.3, 7.9, 8.4, 16.5, 17.2, 17.8, 18.5, 19.2],
    [6.3, 6.9, 7.5, 8.1, 16.7, 17.4, 18.0, 18.7, 19.4],
    [6.4, 7.0, 7.6, 8.2, 8.6, 16.5, 17.1, 17.8, 18.4, 19.0],
    [6.7, 7.3, 7.9, 8.4, 16.9, 17.6, 18.2, 18.9],
    [6.8, 7.4, 8.0, 8.7, 16.1, 16.7, 17.4, 18.0, 18.6],
    [7.0, 7.6, 8.2, 8.7, 16.0, 16.7, 17.3, 18.0, 18.7],
    [7.2, 7.8, 8.5, 9.0, 15.6, 16.3, 16.9, 17.6],
    [7.4, 8.1, 8.7, 9.3, 15.3, 15.9, 16.6, 17.2, 17.9],
    [7.5, 8.2, 8.8, 9.5, 15.1, 15.8, 16.4, 17.1],
    [7.8, 8.4, 9.1, 9.7, 10.4, 11.0, 11.6, 12.3, 12.9, 13.6, 14.2, 14.8, 15.5, 16.1, 16.7, 17.3],
    [8.0, 8.6, 9.3, 9.9, 10.5, 11.2, 11.8, 12.4, 13.1, 13.7, 14.3, 15.0, 15.6, 16.3, 16.9],
    [8.4, 9.0, 9.7, 10.3, 10.9, 11.5, 12.1, 12.8, 13.4, 14.0, 14.6, 15.2, 15.8, 16.5],
    [8.5, 9.1, 9.7, 10.3, 10.9, 11.5, 12.2, 12.8, 13.4, 14.0, 14.6, 15.2, 15.9, 16.4],
    [9.0, 9.6, 10.2, 10.8, 11.4, 12.0, 12.6, 13.2, 13.8, 14.4, 15.0, 15.7],
    [9.4, 10.0, 10.6, 11.2, 11.8, 12.4, 13.0, 13.6, 14.2, 14.8, 15.3],
    [9.9, 10.5, 11.1, 11.7, 12.3, 12.9, 13.5, 14.1, 14.7],
    [10.4, 11.0, 11.6, 12.2, 12.8, 13.4, 14.0],
    [10.9, 11.5, 12.1, 12.7, 13.4],
]

# bordes izquierdo e inferior del nucleo (mas anchos en la figura)
borde_edad = [50.9, 50.2, 49.6, 49.1, 48.5, 47.9, 47.3, 46.6, 46.0, 45.5, 44.9, 44.3, 43.7,
              43.0, 42.4, 41.9, 41.3, 40.7, 40.1, 39.5, 38.9, 38.3, 37.6, 37.0, 36.5, 35.9,
              35.3, 34.6, 34.0, 33.4, 32.9, 32.2, 31.6, 31.0, 30.5, 29.8, 29.2, 28.7, 28.1,
              27.4, 26.8, 26.2]
borde_pas = [
    [4.6, 5.0], [4.9, 5.3], [4.5, 5.1, 5.6], [4.8, 5.4], [4.3, 4.9, 5.5], [5.0, 5.7],
    [4.6, 5.3, 5.9], [5.2, 5.8], [4.9, 5.5, 6.1], [5.4, 6.1], [4.8, 5.3, 5.9],
    [5.0, 5.6, 6.2], [4.5, 5.2, 5.8, 6.2], [5.1, 5.7, 6.4], [4.7, 5.3, 5.9],
    [5.2, 5.9, 6.6], [4.9, 5.6, 6.3], [5.5, 6.1, 6.8], [5.0, 5.7, 6.4], [5.3, 6.0, 6.7],
    [5.6, 6.2, 6.7, 17.9, 18.4], [5.5, 6.1, 6.7, 7.2, 17.8, 18.3], [5.8, 6.4, 7.0, 17.7, 18.2],
    [6.0, 6.7, 7.4, 17.5, 18.1], [6.2, 6.9, 7.5, 17.6], [6.4, 7.1, 7.8, 17.0, 17.6],
    [6.3, 6.9, 7.5, 17.2, 17.8], [6.5, 7.2, 7.9, 16.9, 17.5], [6.7, 7.4, 8.0, 16.5, 17.1],
    [6.9, 7.6, 8.3, 16.3, 16.9], [7.2, 7.8, 8.5, 16.2, 16.8], [7.3, 8.0, 8.7, 15.9, 16.5],
    [7.6, 8.3, 8.9, 15.6, 16.2], [7.8, 8.5, 9.2, 15.3, 15.9], [8.1, 8.7, 9.4, 15.0, 15.7],
    [8.4, 9.1, 9.8, 14.6, 15.3], [8.6, 9.3, 9.9, 14.4, 15.0], [9.0, 9.7, 10.3, 14.0, 14.7],
    [9.2, 9.9, 10.5, 13.8, 14.5], [9.6, 10.3, 11.0, 11.6, 12.3, 12.9, 13.6],
    [10.1, 10.8, 11.5, 12.1, 12.8], [10.6, 11.3, 12.0],
]

# ---- juntar todos los puntos ----
pas = []
edad = []
for zona in [puntos_izq, puntos_medio, puntos_arriba, puntos_abajo, puntos_der]:
    pas += [p[0] for p in zona]
    edad += [p[1] for p in zona]
for filas_y, filas_x in [(nucleo_edad, nucleo_pas), (denso_edad, denso_pas),
                         (relleno_edad, relleno_pas), (borde_edad, borde_pas)]:
    for fy, fx in zip(filas_y, filas_x):
        pas += fx
        edad += [fy] * len(fx)

amarillo = '#ffff00'

fig = plt.figure(figsize=(19.89, 10.22), dpi=100)

# fondo degradado azul
fondo = fig.add_axes([0, 0, 1, 1], zorder=-10)
degradado = np.linspace(0, 1, 256).reshape(-1, 1)
cmap_fondo = LinearSegmentedColormap.from_list('fondo', ['#11106c', '#3333c8'])
fondo.imshow(degradado, aspect='auto', cmap=cmap_fondo, extent=[0, 1, 0, 1], origin='upper')
fondo.axis('off')

ax = fig.add_axes([0.0990, 0.1164, 0.8849, 0.8630])
ax.patch.set_alpha(0)
ax.set_xlim(x_ticks[0], x_ticks[-1])
ax.set_ylim(y_ticks[0], y_ticks[-1])

# recuadro con la ecuacion
ax.add_patch(Rectangle((-19.2, 89.97), 34.8, 9.55, facecolor='#000080', edgecolor='white',
                       linewidth=2.2, zorder=1))
ax.text(-17.55, 92.7, texto_ecuacion, color='white', fontsize=38, va='baseline', zorder=1.5)

# rejilla amarilla/blanca punteada
for xv in x_ticks[1:]:
    ax.axvline(xv, color=amarillo, lw=2.2, zorder=2, clip_on=False)
    ax.axvline(xv, color='white', lw=2.2, ls=(0, (1, 1)), zorder=2.1, clip_on=False)
for yv in y_ticks[1:]:
    ax.axhline(yv, color=amarillo, lw=2.2, zorder=2, clip_on=False)
    ax.axhline(yv, color='white', lw=2.2, ls=(0, (1, 1)), zorder=2.1, clip_on=False)

# puntos elipticos
t = np.linspace(0, 2 * np.pi, 40)
elipse = Path(np.column_stack([np.cos(t), 0.85 * np.sin(t)]))
ax.scatter(pas, edad, s=135, c=amarillo, marker=elipse, linewidths=0, zorder=3)

# recta de regresion
xr = np.array([x_ticks[0], x_ticks[-1]])
ax.plot(xr, intercepto + pendiente * xr, color='#ee0000', lw=11, solid_capstyle='butt', zorder=4)

# ejes
for lado in ['top', 'right']:
    ax.spines[lado].set_visible(False)
ax.spines['left'].set_color(amarillo)
ax.spines['left'].set_linewidth(2.5)
ax.spines['bottom'].set_color(amarillo)
ax.spines['bottom'].set_linewidth(3)
ax.spines['left'].set_zorder(5)
ax.spines['bottom'].set_zorder(5)

ax.set_xticks(x_ticks)
ax.set_yticks(y_ticks)
ax.xaxis.set_minor_locator(MultipleLocator(2))
ax.tick_params(axis='x', which='major', direction='in', length=0, pad=9,
               labelsize=34, labelcolor=amarillo)
ax.tick_params(axis='x', which='minor', direction='in', length=3, width=1.5, color=amarillo)
ax.tick_params(axis='y', which='major', direction='out', length=8, width=2.5, color=amarillo,
               pad=27, labelsize=34, labelcolor=amarillo)
for lbl in ax.get_xticklabels():
    lbl.set_transform(lbl.get_transform() + ScaledTranslation(-8 / 72, 0, fig.dpi_scale_trans))

fig.text(0.5284, 0.0118, etiqueta_x, ha='center', va='baseline', fontsize=38, color=amarillo)
fig.text(0.0199, 0.541, etiqueta_y, ha='center', va='center', rotation=90, fontsize=38,
         color=amarillo)

fig.savefig('out.png', dpi=100)
